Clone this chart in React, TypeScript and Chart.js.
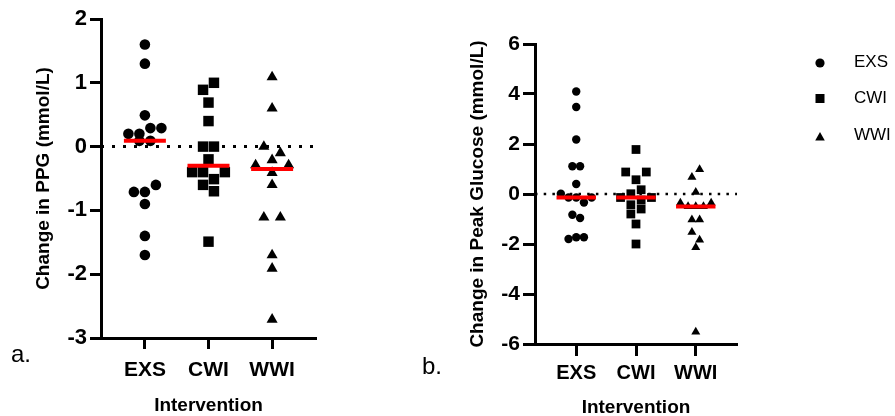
import React, { useEffect, useRef } from "react";
import { Chart, registerables } from "chart.js";

Chart.register(...registerables);

// ---------------- data ----------------
const categories = ["EXS", "CWI", "WWI"];

// Panel a: Change in PPG (mmol/L)
const ppgEXS = [1.6, 1.3, 0.49, 0.2, 0.2, 0.29, 0.29, 0.09, 0.09, -0.71, -0.71, -0.6, -0.9, -1.4, -1.7];
const ppgCWI = [0.89, 1.0, 0.69, 0.4, 0.0, 0.0, -0.2, -0.4, -0.4, -0.51, -0.4, -0.6, -0.7, -1.49];
const ppgWWI = [1.09, 0.6, 0.0, -0.1, -0.29, -0.21, -0.29, -0.41, -0.6, -1.11, -1.11, -1.7, -1.91, -2.71];
const ppgTicks = [-3, -2, -1, 0, 1, 2];

// Panel b: Change in Peak Glucose (mmol/L)
const peakEXS = [4.1, 3.48, 2.18, 1.11, 1.11, 0.4, 0.01, -0.14, -0.14, -0.34, -0.14, -0.83, -0.96, -1.8, -1.73, -1.73];
const peakCWI = [1.78, 0.88, 0.57, 0.88, -0.14, 0.01, 0.17, -0.14, -0.43, -0.24, -0.8, -0.6, -1.2, -2.0];
const peakWWI = [0.67, 0.98, 0.07, -0.36, -0.5, -0.5, -0.5, -0.36, -1.03, -1.03, -1.53, -1.84, -2.14, -5.52];
const peakTicks = [-6, -4, -2, 0, 2, 4, 6];

const pointStyles = ["circle", "rect", "triangle"];

// ---------------- helpers ----------------
const FONT = '"Liberation Sans", Arial, Helvetica, sans-serif';
Chart.defaults.font.family = FONT;

function median(a: number[]) {
  const s = [...a].sort((x, y) => x - y);
  const n = s.length;
  return n % 2 ? s[(n - 1) / 2] : (s[n / 2 - 1] + s[n / 2]) / 2;
}

// simple row-based beeswarm: values that overlap vertically share a row and are spread sideways
function swarmOffsets(values: number[], pxPerY: number, thr: number, stepPx: number, pxPerX: number) {
  const idx = values.map((_, i) => i).sort((a, b) => values[b] - values[a]);
  const off = new Array(values.length).fill(0);
  let row: number[] = [];
  const flush = () => {
    const r = [...row].sort((a, b) => a - b);
    r.forEach((i, k) => (off[i] = ((k - (r.length - 1) / 2) * stepPx) / pxPerX));
    row = [];
  };
  for (const i of idx) {
    if (row.length && (values[row[0]] - values[i]) * pxPerY > thr) flush();
    row.push(i);
  }
  if (row.length) flush();
  return off;
}

type Spec = {
  groups: number[][];
  ticks: number[];
  yTitle: string;
  label: string;
  labelX: number;
  labelY: number;
  padding: { left: number; right: number; top: number; bottom: number };
  yAxisWidth: number;
  xAxisHeight: number;
  tickLen: number;
  yTickSize: number;
  xTickSize: number;
  yTickPad: number;
  xTickPad: number;
  titleSize: number;
  yTitlePad: number;
  xTitleLH: number;
  radii: number[];
  stepPx: number[];
  rowThr: number[];
  dotWidth: number;
  dash: number[];
  medianWidth: number;
  legend?: boolean;
};

function makeChart(canvas: HTMLCanvasElement, s: Spec) {
  const xMin = -0.69;
  const xMax = categories.length - 1 + 0.69;
  const yMin = s.ticks[0];
  const yMax = s.ticks[s.ticks.length - 1];

  const zeroSet: any = {
    data: [
      { x: xMin, y: 0 },
      { x: xMax, y: 0 },
    ],
    showLine: true,
    borderColor: "#000",
    borderWidth: s.dotWidth,
    borderDash: s.dash,
    pointRadius: 0,
    order: 2,
  };
  const pointSets: any[] = s.groups.map((vals, g) => ({
    label: categories[g],
    data: vals.map((v) => ({ x: g, y: v })),
    pointStyle: pointStyles[g],
    pointRadius: s.radii[g],
    backgroundColor: "#000",
    borderColor: "#000",
    pointBorderWidth: 0,
    showLine: false,
    order: 1,
  }));
  const medianSets: any[] = s.groups.map((vals, g) => {
    const m = median(vals);
    return {
      data: [
        { x: g - 0.33, y: m },
        { x: g + 0.33, y: m },
      ],
      showLine: true,
      borderColor: "#ff0000",
      borderWidth: s.medianWidth,
      pointRadius: 0,
      order: 0,
    };
  });

  const annot = {
    id: "annot",
    afterDraw(chart: any) {
      const ctx = chart.ctx as CanvasRenderingContext2D;
      ctx.save();
      ctx.fillStyle = "#000";
      ctx.textAlign = "left";
      ctx.textBaseline = "alphabetic";
      ctx.font = `24px ${FONT}`;
      ctx.fillText(s.label, s.labelX, s.labelY);
      if (s.legend) {
        const mx = 400;
        const tx = 434;
        const markerY = [63, 98.5, 137.5];
        const textY = [62, 98, 135];
        ctx.font = `17px ${FONT}`;
        ctx.textBaseline = "middle";
        categories.forEach((c, i) => {
          const y = markerY[i];
          ctx.beginPath();
          if (pointStyles[i] === "circle") {
            ctx.arc(mx, y, 4.6, 0, Math.PI * 2);
          } else if (pointStyles[i] === "rect") {
            ctx.rect(mx - 4.5, y - 4.5, 9, 9);
          } else {
            ctx.moveTo(mx, y - 5.5);
            ctx.lineTo(mx + 4.8, y + 3);
            ctx.lineTo(mx - 4.8, y + 3);
            ctx.closePath();
          }
          ctx.fill();
          ctx.fillText(c, tx, textY[i]);
        });
      }
      ctx.restore();
    },
  };

  const chart = new Chart(canvas, {
    type: "scatter",
    data: { datasets: [zeroSet, ...pointSets, ...medianSets] },
    options: {
      responsive: false,
      maintainAspectRatio: false,
      devicePixelRatio: 1,
      animation: false,
      events: [],
      layout: { padding: s.padding },
      plugins: { legend: { display: false }, tooltip: { enabled: false } },
      scales: {
        x: {
          type: "linear",
          min: xMin,
          max: xMax,
          afterBuildTicks: (sc: any) => {
            sc.ticks = categories.map((_, i) => ({ value: i }));
          },
          afterFit: (sc: any) => {
            sc.height = s.xAxisHeight;
          },
          ticks: {
            autoSkip: false,
            maxRotation: 0,
            padding: s.xTickPad,
            color: "#000",
            font: { size: s.xTickSize, weight: "bold", family: FONT },
            callback: (v: any) => categories[Math.round(Number(v))] ?? "",
          },
          grid: {
            drawOnChartArea: false,
            drawTicks: true,
            tickLength: s.tickLen,
            tickWidth: 3,
            tickColor: "#000",
          },
          border: { display: true, color: "#000", width: 3 },
          title: {
            display: true,
            text: "Intervention",
            color: "#000",
            padding: 0,
            font: { size: s.titleSize, weight: "bold", family: FONT, lineHeight: s.xTitleLH },
          },
        },
        y: {
          type: "linear",
          min: yMin,
          max: yMax,
          afterBuildTicks: (sc: any) => {
            sc.ticks = s.ticks.map((v) => ({ value: v }));
          },
          afterFit: (sc: any) => {
            sc.width = s.yAxisWidth;
          },
          ticks: {
            padding: s.yTickPad,
            color: "#000",
            font: { size: s.yTickSize, weight: "bold", family: FONT },
          },
          grid: {
            drawOnChartArea: false,
            drawTicks: true,
            tickLength: s.tickLen,
            tickWidth: 3,
            tickColor: "#000",
          },
          border: { display: true, color: "#000", width: 3 },
          title: {
            display: true,
            text: s.yTitle,
            color: "#000",
            padding: { top: s.yTitlePad, bottom: 0 },
            font: { size: s.titleSize, weight: "bold", family: FONT },
          },
        },
      },
    } as any,
    plugins: [annot],
  });

  const xs: any = chart.scales.x;
  const ys: any = chart.scales.y;
  const pxX = xs.getPixelForValue(1) - xs.getPixelForValue(0);
  const pxY = ys.getPixelForValue(0) - ys.getPixelForValue(1);
  s.groups.forEach((vals, g) => {
    const off = swarmOffsets(vals, pxY, s.rowThr[g], s.stepPx[g], pxX);
    (chart.data.datasets[1 + g] as any).data = vals.map((v, i) => ({ x: g + off[i], y: v }));
  });
  chart.update();
  return chart;
}

const leftSpec: Spec = {
  groups: [ppgEXS, ppgCWI, ppgWWI],
  ticks: ppgTicks,
  yTitle: "Change in PPG (mmol/L)",
  label: "a.",
  labelX: 11,
  labelY: 362,
  padding: { left: 0, right: 104, top: 19, bottom: 0 },
  yAxisWidth: 101,
  xAxisHeight: 78,
  tickLen: 11,
  yTickSize: 22,
  xTickSize: 21,
  yTickPad: 3,
  xTickPad: 8.4,
  titleSize: 19,
  yTitlePad: 32,
  xTitleLH: 1.07,
  radii: [5.3, 7.4, 6.4],
  stepPx: [11, 10.9, 16.5],
  rowThr: [10, 10, 10],
  dotWidth: 3,
  dash: [3, 8],
  medianWidth: 4,
};

const rightSpec: Spec = {
  groups: [peakEXS, peakCWI, peakWWI],
  ticks: peakTicks,
  yTitle: "Change in Peak Glucose (mmol/L)",
  label: "b.",
  labelX: 2,
  labelY: 374,
  padding: { left: 0, right: 158, top: 44, bottom: 0 },
  yAxisWidth: 115,
  xAxisHeight: 72,
  tickLen: 12,
  yTickSize: 21,
  xTickSize: 20,
  yTickPad: 3,
  xTickPad: 5,
  titleSize: 19,
  yTitlePad: 46.6,
  xTitleLH: 0.84,
  radii: [4.2, 6.2, 5.2],
  stepPx: [7.7, 10.3, 7.7],
  rowThr: [9.2, 8.5, 8.5],
  dotWidth: 2.5,
  dash: [2.5, 6.2],
  medianWidth: 4,
  legend: true,
};

export default function App() {
  const leftRef = useRef<HTMLCanvasElement>(null);
  const rightRef = useRef<HTMLCanvasElement>(null);

  useEffect(() => {
    const a = makeChart(leftRef.current as HTMLCanvasElement, leftSpec);
    const b = makeChart(rightRef.current as HTMLCanvasElement, rightSpec);
    return () => {
      a.destroy();
      b.destroy();
    };
  }, []);

  return (
    <div
      style={{
        position: "absolute",
        left: 0,
        top: 0,
        width: 895,
        height: 416,
        background: "#fff",
        overflow: "hidden",
      }}
    >
      <canvas
        ref={leftRef}
        width={420}
        height={416}
        style={{ position: "absolute", left: 0, top: 0, width: 420, height: 416 }}
      />
      <canvas
        ref={rightRef}
        width={475}
        height={416}
        style={{ position: "absolute", left: 420, top: 0, width: 475, height: 416 }}
      />
    </div>
  );
}
